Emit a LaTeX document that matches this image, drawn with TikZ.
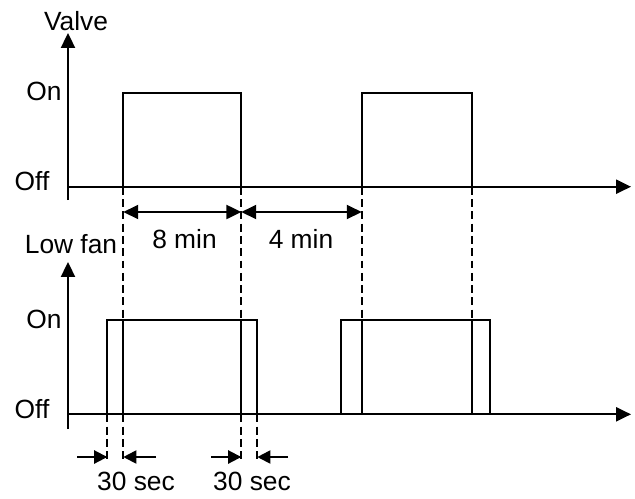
\documentclass[tikz,border=0pt]{standalone}
\usepackage{fontspec}
\setmainfont{Liberation Sans}
\usetikzlibrary{arrows.meta,positioning,calc}
\tikzset{
  % Axis with filled arrow head
  axisline/.style={
    -{Triangle[length=8.5pt,width=8pt]},
    line width=1.1pt
  },
  % Signal trace
  pulse/.style={
    line width=1pt
  },
  % Timing guide line
  guide/.style={
    dash pattern=on 4.5pt off 2.5pt,
    line width=1.1pt
  },
  % Dimension arrow
  dimarrow/.style={
    {Triangle[length=8.5pt,width=8pt]}-{Triangle[length=8.5pt,width=8pt]},
    line width=1.1pt
  },
  % Gap arrow pointing at a line
  gaparrow/.style={
    -{Triangle[length=7.5pt,width=7.5pt]},
    line width=1.1pt
  },
  % Text label
  axistext/.style={
    font=\fontsize{15}{17}\selectfont,
    inner sep=0pt
  }
}
\begin{document}
\begin{tikzpicture}[x=0.02cm, y=-0.02cm]
\useasboundingbox (0,0) rectangle (635,498);

%% === Valve chart ===
\coordinate (vbot) at (68,200);
\coordinate (vtop) at (68,33);
\coordinate (vzero) at (68,186.7);
\coordinate (vend) at (631,186.7);
\coordinate (vhigh) at (0,92.7);
\draw[axisline] (vbot) -- (vtop);
\draw[axisline] (vzero) -- (vend);

\node[axistext] (valve) at (76,21) {Valve};
\node[axistext] (valveon) at (44,91) {On};
\node[axistext] (valveoff) at (32,181) {Off};

% Valve switching instants
\coordinate (v1) at (123.3,186.7);
\coordinate (v2) at (241.3,186.7);
\coordinate (v3) at (361.7,186.7);
\coordinate (v4) at (471.7,186.7);

% Valve pulses
\draw[pulse] (v1) -- (v1 |- vhigh) -- (v2 |- vhigh) -- (v2);
\draw[pulse] (v3) -- (v3 |- vhigh) -- (v4 |- vhigh) -- (v4);

% On / off durations
\coordinate (dim) at (0,212);
\draw[dimarrow] (v1 |- dim) -- (v2 |- dim);
\draw[dimarrow] (v2 |- dim) -- (v3 |- dim);
\node[axistext] (onlabel) at (184.5,239) {8 min};
\node[axistext] (offlabel) at (301,239) {4 min};

%% === Low fan chart ===
\coordinate (fbot) at (68,429);
\coordinate (ftop) at (68,262);
\coordinate (fzero) at (68,414.3);
\coordinate (fend) at (631,414.3);
\coordinate (fhigh) at (0,320.3);
\draw[axisline] (fbot) -- (ftop);
\draw[axisline] (fzero) -- (fend);

\node[axistext] (lowfan) at (71,244) {Low fan};
\node[axistext] (fanon) at (44,319) {On};
\node[axistext] (fanoff) at (32,409) {Off};

% Fan switching instants
\coordinate (f1) at (107.3,414.3);
\coordinate (f2) at (257.3,414.3);
\coordinate (f3) at (341.3,414.3);
\coordinate (f4) at (490,414.3);

% Fan pulses
\draw[pulse] (f1) -- (f1 |- fhigh) -- (f2 |- fhigh) -- (f2);
\draw[pulse] (f3) -- (f3 |- fhigh) -- (f4 |- fhigh) -- (f4);

% Valve instants carried down to the fan chart
\foreach \v in {v1,v2,v3,v4} {
  \draw[guide] (\v) -- (\v |- fhigh);
  \draw[pulse] (\v |- fhigh) -- (\v |- fzero);
}

% Guides below the fan axis
\coordinate (tick) at (0,459);
\foreach \p in {f1,f2} {
  \draw[guide] (\p) -- (\p |- tick);
}
\foreach \v in {v1,v2} {
  \draw[guide] (\v |- fzero) -- (\v |- tick);
}

% 30 sec delays
\coordinate (gap) at (0,457);
\coordinate (g1) at (77,457);
\coordinate (g2) at (156,457);
\coordinate (g3) at (211,457);
\coordinate (g4) at (288,457);
\draw[gaparrow] (g1) -- (f1 |- gap);
\draw[gaparrow] (g2) -- (v1 |- gap);
\draw[gaparrow] (g3) -- (v2 |- gap);
\draw[gaparrow] (g4) -- (f2 |- gap);
\node[axistext] (delayon) at (136,481) {30 sec};
\node[axistext] (delayoff) at (252,481) {30 sec};

\end{tikzpicture}
\end{document}
